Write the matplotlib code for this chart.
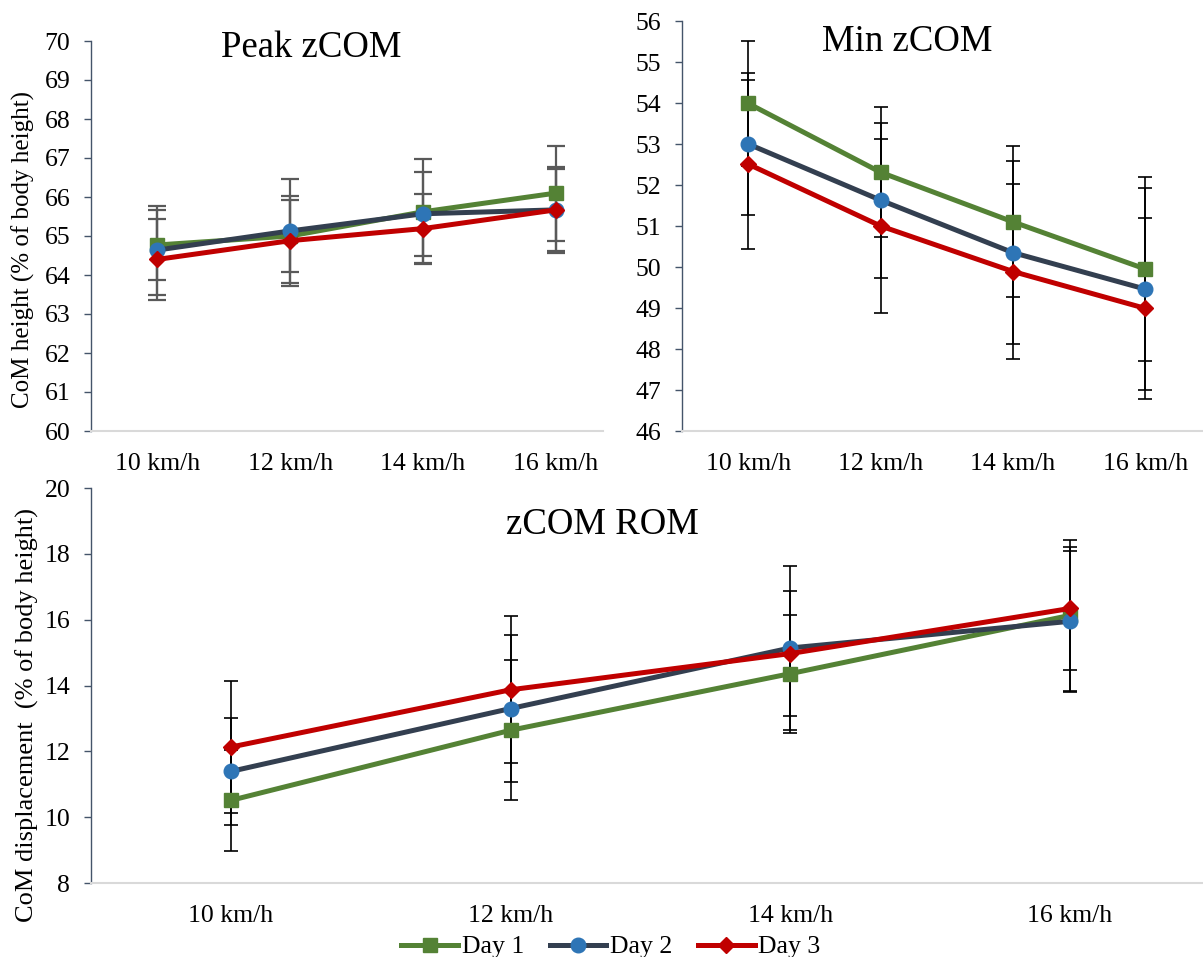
import matplotlib.pyplot as plt

plt.rcParams['font.family'] = ['Liberation Serif', 'DejaVu Serif']

speeds = ['10 km/h', '12 km/h', '14 km/h', '16 km/h']
days = ['Day 1', 'Day 2', 'Day 3']

# mean and SD per day (rows) and speed (columns)
peak_mean = [[64.77, 65.00, 65.62, 66.10],
             [64.64, 65.13, 65.57, 65.67],
             [64.40, 64.88, 65.19, 65.67]]
peak_sd = [[0.89, 0.92, 1.35, 1.22],
           [1.14, 1.33, 1.08, 1.10],
           [1.03, 1.15, 0.89, 1.05]]

min_mean = [[53.99, 52.31, 51.10, 49.95],
            [53.00, 51.63, 50.35, 49.46],
            [52.51, 51.00, 49.89, 48.99]]
min_sd = [[1.52, 1.59, 1.84, 2.25],
          [1.74, 1.89, 2.24, 2.47],
          [2.06, 2.13, 2.13, 2.21]]

rom_mean = [[10.51, 12.64, 14.36, 16.13],
            [11.39, 13.30, 15.14, 15.95],
            [12.13, 13.87, 14.97, 16.34]]
rom_sd = [[1.54, 2.13, 1.79, 2.30],
          [1.62, 2.22, 2.50, 2.15],
          [2.00, 2.23, 1.90, 1.87]]

line_colors = ['#548235', '#333F50', '#C00000']
marker_colors = ['#548235', '#2E75B6', '#C00000']
markers = ['s', 'o', 'D']
msizes = [10, 10.5, 8.5]

W, H = 1203, 957
fig = plt.figure(figsize=(W / 100, H / 100), dpi=100)


def px_axes(left, top, right, bottom):
    return fig.add_axes([left / W, 1 - bottom / H, (right - left) / W, (bottom - top) / H])


def draw_panel(ax, means, sds, ylim, yticks, x_right, ecolor, elw, caps):
    x = list(range(len(speeds)))
    for i in range(len(days)):
        ax.errorbar(x, means[i], yerr=sds[i], fmt='none', ecolor=ecolor,
                    elinewidth=elw, capsize=caps, capthick=elw, zorder=1)
    lines = []
    for i in range(len(days)):
        ln, = ax.plot(x, means[i], color=line_colors[i], lw=3.6, marker=markers[i],
                      ms=msizes[i], mfc=marker_colors[i], mec=marker_colors[i],
                      label=days[i], zorder=3 + i)
        lines.append(ln)
    ax.set_xlim(-0.5, x_right)
    ax.set_ylim(*ylim)
    ax.set_yticks(yticks)
    ax.set_xticks(x)
    ax.set_xticklabels(speeds)
    for s in ['top', 'right']:
        ax.spines[s].set_visible(False)
    ax.spines['left'].set_color('#44546A')
    ax.spines['left'].set_linewidth(1.0)
    ax.spines['bottom'].set_color('#D9D9D9')
    ax.spines['bottom'].set_linewidth(1.5)
    ax.tick_params(axis='y', length=5, width=1, color='#44546A', pad=10, labelsize=18.5)
    ax.tick_params(axis='x', length=0, pad=16, labelsize=18.5)
    ax.patch.set_alpha(0)
    return lines


# top left: Peak zCOM
ax1 = px_axes(91, 41, 603, 431)
draw_panel(ax1, peak_mean, peak_sd, (60, 70), range(60, 71), -0.5 + 512 / 132.8,
           '#595959', 1.6, 6.5)

# top right: Min zCOM
ax2 = px_axes(682, 21, 1203, 431)
draw_panel(ax2, min_mean, min_sd, (46, 56), range(46, 57), -0.5 + 521 / 132.4,
           'black', 1.2, 5)

# bottom: zCOM ROM
ax3 = px_axes(91, 488, 1203, 883)
lines = draw_panel(ax3, rom_mean, rom_sd, (8, 20), range(8, 21, 2), -0.5 + 1112 / 279.7,
                   'black', 1.2, 5)

fig.text(311.5 / W, 1 - 57 / H, 'Peak zCOM', ha='center', va='baseline', fontsize=26.5)
fig.text(907 / W, 1 - 51 / H, 'Min zCOM', ha='center', va='baseline', fontsize=26.5)
fig.text(602 / W, 1 - 534 / H, 'zCOM ROM', ha='center', va='baseline', fontsize=26.5)

fig.text(23 / W, 1 - 250 / H, 'CoM height (% of body height)', rotation=90,
         ha='center', va='center', fontsize=18)
fig.text(27 / W, 1 - 715 / H, 'CoM displacement  (% of body height)', rotation=90,
         ha='center', va='center', fontsize=19)

fig.legend(handles=lines, loc='center', bbox_to_anchor=(611 / W, 1 - 947 / H), ncol=3,
           frameon=False, fontsize=18.5, handlelength=2.2, handletextpad=0.15,
           columnspacing=1.0, numpoints=1, borderpad=0)

fig.savefig('out.png', dpi=100)
